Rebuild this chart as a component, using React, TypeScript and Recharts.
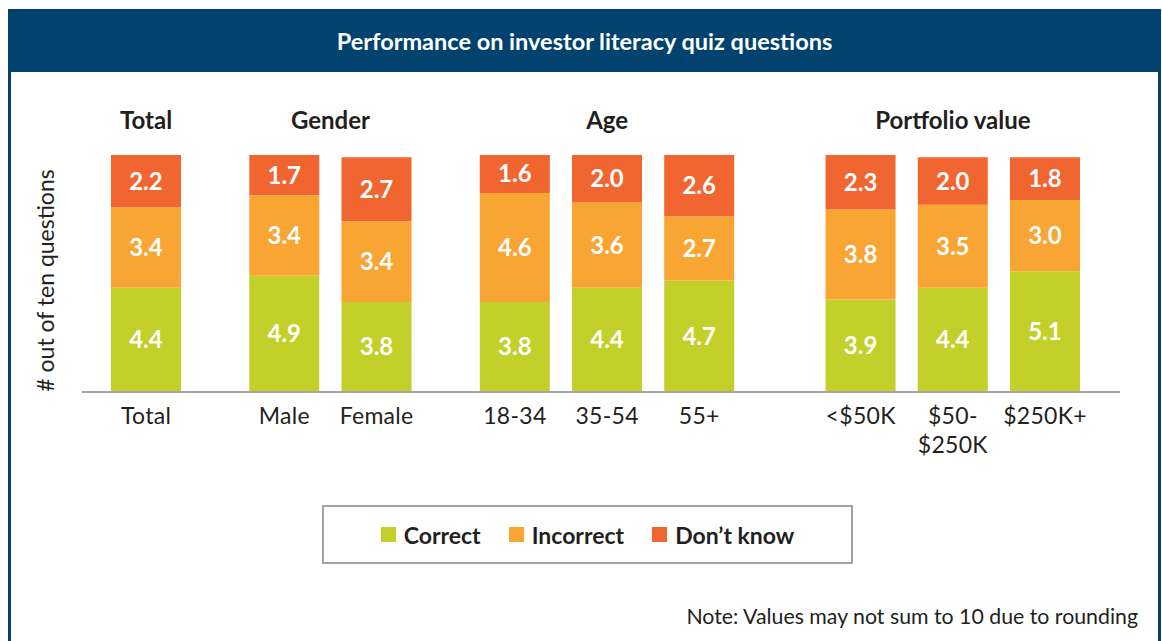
import { BarChart, Bar, XAxis, YAxis, LabelList, Legend, Label } from 'recharts';

const categories = ['Total', 'Male', 'Female', '18-34', '35-54', '55+', '<$50K', '$50-$250K', '$250K+'];
const correct = [4.4, 4.9, 3.8, 3.8, 4.4, 4.7, 3.9, 4.4, 5.1];
const incorrect = [3.4, 3.4, 3.4, 4.6, 3.6, 2.7, 3.8, 3.5, 3.0];
const dontKnow = [2.2, 1.7, 2.7, 1.6, 2.0, 2.6, 2.3, 2.0, 1.8];
const seriesNames = ['Correct', 'Incorrect', 'Don’t know'];

const groupNames = ['Total', 'Gender', 'Age', 'Portfolio value'];
const groupMembers = [['Total'], ['Male', 'Female'], ['18-34', '35-54', '55+'], ['<$50K', '$50-$250K', '$250K+']];

// layout: slot units between bars in a group, and before each group
const BAR_STEP = 4;
const groupGaps = [0, 6, 6, 7];

const COLORS = { correct: '#C3D02A', incorrect: '#F9A533', dontKnow: '#F16531' };
const NAVY = '#02426E';
const TEXT = '#231F20';
const FONT = 'Lato, "Open Sans", sans-serif';

const slotOf: Record<string, number> = {};
const groupCenters: number[] = [];
{
  let pos = 0;
  groupMembers.forEach((members, g) => {
    if (g > 0) pos += groupGaps[g] - BAR_STEP;
    const start = pos;
    members.forEach((m, i) => {
      if (i > 0) pos += BAR_STEP;
      slotOf[m] = pos;
    });
    groupCenters.push((start + pos) / 2);
    pos += BAR_STEP;
  });
}

const data = categories.map((c, i) => ({
  name: c,
  slot: slotOf[c],
  correct: correct[i],
  incorrect: incorrect[i],
  dontKnow: dontKnow[i],
}));

const slots = data.map((d) => d.slot);
const X_DOMAIN = [-2.78, 42.25];

const CategoryTick = ({ x, y, payload }: any) => {
  const d = data.find((r) => r.slot === payload.value);
  if (!d) return null;
  const cut = d.name.indexOf('-$');
  const lines = cut >= 0 ? [d.name.slice(0, cut + 1), d.name.slice(cut + 1)] : [d.name];
  return (
    <text x={x} y={y} textAnchor="middle" fill={TEXT} fontFamily={FONT} fontSize={23} letterSpacing={0.3}>
      {lines.map((l, i) => (
        <tspan key={i} x={x} dy={i === 0 ? 24 : 29}>
          {l}
        </tspan>
      ))}
    </text>
  );
};

const GroupTick = ({ x, y, payload }: any) => {
  const idx = groupCenters.indexOf(payload.value);
  if (idx < 0) return null;
  return (
    <text x={x} y={y} dy={-18} textAnchor="middle" fill={TEXT} fontFamily={FONT} fontSize={24} fontWeight="bold">
      {groupNames[idx]}
    </text>
  );
};

const YTitle = ({ viewBox }: any) => {
  const cx = viewBox.x + viewBox.width / 2;
  const cy = viewBox.y + viewBox.height / 2 + 7;
  return (
    <text
      x={cx}
      y={cy}
      transform={`rotate(-90 ${cx} ${cy})`}
      textAnchor="middle"
      dominantBaseline="central"
      fill={TEXT}
      fontFamily={FONT}
      fontSize={23}
    >
      # out of ten questions
    </text>
  );
};

const LegendBox = ({ payload }: any) => {
  const items = [...(payload || [])].sort((a: any, b: any) => seriesNames.indexOf(a.value) - seriesNames.indexOf(b.value));
  return (
    <div
      style={{
        boxSizing: 'border-box',
        width: 531,
        height: 59,
        border: '2px solid #A3A3A3',
        display: 'flex',
        alignItems: 'center',
        justifyContent: 'center',
        fontFamily: FONT,
        fontWeight: 'bold',
        fontSize: 23,
        color: TEXT,
        background: '#fff',
      }}
    >
      {items.map((p: any, i: number) => (
        <span key={i} style={{ display: 'flex', alignItems: 'center', marginLeft: i === 0 ? 0 : 28 }}>
          <span style={{ width: 15, height: 15, background: p.color, marginRight: 8 }} />
          <span>{p.value}</span>
        </span>
      ))}
    </div>
  );
};

const valueLabel = { fill: '#fff', fontFamily: FONT, fontSize: 24, fontWeight: 'bold' as const };
const fmt = (v: any) => Number(v).toFixed(1);

export default function App() {
  return (
    <div style={{ position: 'fixed', left: 0, top: 0, width: 1162, height: 641, background: '#fff', overflow: 'hidden' }}>
      <div
        style={{
          position: 'absolute',
          left: 8,
          top: 9,
          width: 1153,
          height: 700,
          boxSizing: 'border-box',
          borderLeft: `3px solid ${NAVY}`,
          borderRight: `3px solid ${NAVY}`,
        }}
      />
      <div
        style={{
          position: 'absolute',
          left: 8,
          top: 9,
          width: 1153,
          height: 63,
          background: NAVY,
          color: '#fff',
          fontFamily: FONT,
          fontWeight: 'bold',
          fontSize: 23.5,
          display: 'flex',
          alignItems: 'center',
          justifyContent: 'center',
        }}
      >
        Performance on investor literacy quiz questions
      </div>
      <div style={{ position: 'absolute', left: 0, top: 0 }}>
        <BarChart width={1162} height={641} data={data} margin={{ top: 115, right: 42, bottom: 189, left: 8 }}>
          <XAxis
            dataKey="slot"
            type="number"
            domain={X_DOMAIN}
            allowDataOverflow
            ticks={slots}
            interval={0}
            tick={<CategoryTick />}
            tickLine={false}
            axisLine={{ stroke: '#A6A6A6', strokeWidth: 2 }}
            height={60}
          />
          <XAxis
            xAxisId="group"
            orientation="top"
            dataKey="slot"
            type="number"
            domain={X_DOMAIN}
            allowDataOverflow
            ticks={groupCenters}
            interval={0}
            tick={<GroupTick />}
            tickLine={false}
            axisLine={false}
            height={40}
          />
          <YAxis domain={[0, 10]} width={74} tick={false} axisLine={false} tickLine={false}>
            <Label content={<YTitle />} />
          </YAxis>
          <Legend
            layout="horizontal"
            verticalAlign="middle"
            align="center"
            wrapperStyle={{ left: 322, top: 505, width: 531, height: 59 }}
            content={<LegendBox />}
          />
          <Bar dataKey="correct" name={seriesNames[0]} stackId="a" fill={COLORS.correct} barSize={70} isAnimationActive={false}>
            <LabelList dataKey="correct" position="center" formatter={fmt} style={valueLabel} />
          </Bar>
          <Bar dataKey="incorrect" name={seriesNames[1]} stackId="a" fill={COLORS.incorrect} barSize={70} isAnimationActive={false}>
            <LabelList dataKey="incorrect" position="center" formatter={fmt} style={valueLabel} />
          </Bar>
          <Bar dataKey="dontKnow" name={seriesNames[2]} stackId="a" fill={COLORS.dontKnow} barSize={70} isAnimationActive={false}>
            <LabelList dataKey="dontKnow" position="center" formatter={fmt} style={valueLabel} />
          </Bar>
        </BarChart>
      </div>
      <div
        style={{
          position: 'absolute',
          right: 24,
          top: 603,
          fontFamily: FONT,
          fontSize: 21.3,
          color: TEXT,
        }}
      >
        Note: Values may not sum to 10 due to rounding
      </div>
    </div>
  );
}
